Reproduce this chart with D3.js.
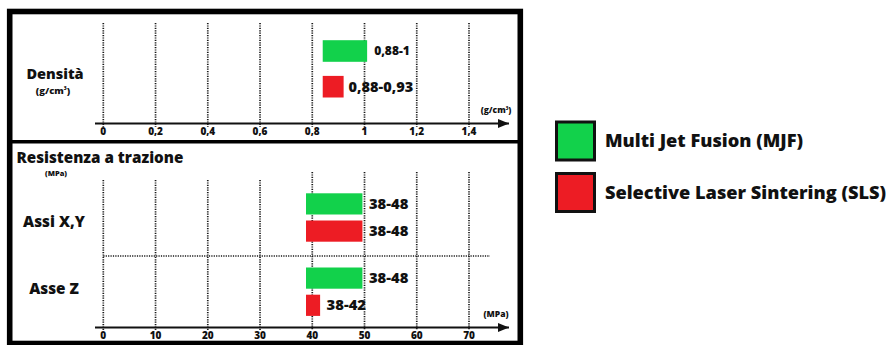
<!DOCTYPE html>
<html>
<head>
<meta charset="utf-8">
<script src="https://cdn.jsdelivr.net/npm/d3@7"></script>
<style>
  body { margin: 0; background: #fff; }
  svg text { font-family: "Open Sans", sans-serif; font-weight: 800; fill: #111; }
</style>
</head>
<body>
<script>
// series
const seriesNames = ["Multi Jet Fusion (MJF)", "Selective Laser Sintering (SLS)"];
const seriesKeys = ["MJF", "SLS"];
const seriesColors = ["#12d14b", "#ed1c24"];

// density panel (bar extents as drawn, labels as written)
const densityStart = [0.84, 0.84];
const densityEnd = [1.01, 0.92];
const densityLabels = ["0,88-1", "0,88-0,93"];
const densityTicks = [0, 0.2, 0.4, 0.6, 0.8, 1, 1.2, 1.4];

// tensile panel
const tensileGroups = ["Assi X,Y", "Asse Z"];
const tensileStart = [[38.8, 38.8], [38.8, 38.8]];
const tensileEnd = [[49.6, 49.6], [49.6, 41.5]];
const tensileLabels = [["38-48", "38-48"], ["38-48", "38-42"]];
const tensileTicks = [0, 10, 20, 30, 40, 50, 60, 70];

const width = 896, height = 345;

const svg = d3.select('body').append('svg')
    .attr('width', width)
    .attr('height', height);

svg.append('defs').append('marker')
    .attr('id', 'arrow')
    .attr('viewBox', '0 0 10 8')
    .attr('refX', 10).attr('refY', 4)
    .attr('markerWidth', 11).attr('markerHeight', 9)
    .attr('markerUnits', 'userSpaceOnUse')
    .attr('orient', 'auto')
    .append('path').attr('d', 'M0,0L10,4L0,8Z').attr('fill', '#111');

const fmt = d => String(d).replace('.', ',');

// frame
svg.append('rect')
    .attr('x', 9.7).attr('y', 11.5)
    .attr('width', 510.6).attr('height', 332)
    .attr('fill', 'none').attr('stroke', '#000').attr('stroke-width', 5.6);
svg.append('line')
    .attr('x1', 10).attr('x2', 520).attr('y1', 141.7).attr('y2', 141.7)
    .attr('stroke', '#000').attr('stroke-width', 3.5);

function dotted(sel) {
    return sel.attr('stroke', '#1a1a1a').attr('stroke-width', 1.7).attr('stroke-dasharray', '1.2,1.2');
}

// ---------- density ----------
const xD = d3.scaleLinear().domain([0, 1.4]).range([103.3, 469]);
const yD = d3.scalePoint().domain(seriesKeys).range([51, 86.7]);
const topPanel = svg.append('g');

dotted(topPanel.selectAll('line.grid').data(densityTicks).enter().append('line'))
    .attr('class', 'grid')
    .attr('x1', d => xD(d)).attr('x2', d => xD(d))
    .attr('y1', 23).attr('y2', 127);

topPanel.append('line')
    .attr('x1', 95).attr('x2', 509).attr('y1', 123.5).attr('y2', 123.5)
    .attr('stroke', '#111').attr('stroke-width', 2)
    .attr('marker-end', 'url(#arrow)');

topPanel.selectAll('text.tick').data(densityTicks).enter().append('text')
    .attr('class', 'tick')
    .attr('x', d => xD(d)).attr('y', 134.5)
    .attr('text-anchor', 'middle').attr('font-size', 10)
    .text(fmt);

topPanel.append('text').attr('x', 496).attr('y', 113)
    .attr('text-anchor', 'middle').attr('font-size', 8.5)
    .html('(g/cm<tspan dy="-3.5" font-size="4.5">3</tspan><tspan dy="3.5">)</tspan>');

topPanel.selectAll('rect.bar').data(seriesKeys).enter().append('rect')
    .attr('class', 'bar')
    .attr('x', (d, i) => xD(densityStart[i]))
    .attr('width', (d, i) => xD(densityEnd[i]) - xD(densityStart[i]))
    .attr('y', d => yD(d) - 10.8).attr('height', 21.6)
    .attr('fill', (d, i) => seriesColors[i]);

topPanel.selectAll('text.val').data(seriesKeys).enter().append('text')
    .attr('class', 'val')
    .attr('x', (d, i) => xD(densityEnd[i]) + (i === 0 ? 7 : 5))
    .attr('y', d => yD(d)).attr('dy', '0.35em')
    .attr('font-size', (d, i) => i === 0 ? 12 : 14.5)
    .text((d, i) => densityLabels[i]);

topPanel.append('text').attr('x', 55).attr('y', 79)
    .attr('text-anchor', 'middle').attr('font-size', 14.5).text('Densità');
topPanel.append('text').attr('x', 53).attr('y', 94)
    .attr('text-anchor', 'middle').attr('font-size', 9.5)
    .html('(g/cm<tspan dy="-4" font-size="5">3</tspan><tspan dy="4">)</tspan>');

// ---------- tensile ----------
const xT = d3.scaleLinear().domain([0, 70]).range([103.3, 469]);
const yG = d3.scalePoint().domain(tensileGroups).range([217.5, 291.7]);
const yS = d3.scalePoint().domain(seriesKeys).range([-13.6, 13.6]);
const bot = svg.append('g');

bot.append('text').attr('x', 16.5).attr('y', 163)
    .attr('font-size', 15.2).text('Resistenza a trazione');
bot.append('text').attr('x', 56).attr('y', 176)
    .attr('text-anchor', 'middle').attr('font-size', 7.5).text('(MPa)');

dotted(bot.selectAll('line.grid').data(tensileTicks).enter().append('line'))
    .attr('class', 'grid')
    .attr('x1', d => xT(d)).attr('x2', d => xT(d))
    .attr('y1', d => d < 40 ? 180 : 172).attr('y2', 330);

const sepY = (yG(tensileGroups[0]) + yG(tensileGroups[1])) / 2 + 1.4;
dotted(bot.append('line'))
    .attr('x1', xT(0)).attr('x2', 490)
    .attr('y1', sepY).attr('y2', sepY);

bot.append('line')
    .attr('x1', 95).attr('x2', 509).attr('y1', 327.5).attr('y2', 327.5)
    .attr('stroke', '#111').attr('stroke-width', 2)
    .attr('marker-end', 'url(#arrow)');

bot.selectAll('text.tick').data(tensileTicks).enter().append('text')
    .attr('class', 'tick')
    .attr('x', d => xT(d)).attr('y', 339)
    .attr('text-anchor', 'middle').attr('font-size', 10)
    .text(d => d);

bot.append('text').attr('x', 496).attr('y', 317)
    .attr('text-anchor', 'middle').attr('font-size', 8.5).text('(MPa)');

const labelShift = [9.5, 1.8];
bot.selectAll('text.cat').data(tensileGroups).enter().append('text')
    .attr('class', 'cat')
    .attr('x', 54).attr('y', (d, i) => yG(d) + labelShift[i])
    .attr('text-anchor', 'middle').attr('font-size', 15.3)
    .text(d => d);

tensileGroups.forEach((g, gi) => {
    const row = bot.append('g');
    row.selectAll('rect').data(seriesKeys).enter().append('rect')
        .attr('x', (d, i) => xT(tensileStart[gi][i]))
        .attr('width', (d, i) => xT(tensileEnd[gi][i]) - xT(tensileStart[gi][i]))
        .attr('y', d => yG(g) + yS(d) - 10.6).attr('height', 21.2)
        .attr('fill', (d, i) => seriesColors[i]);
    row.selectAll('text').data(seriesKeys).enter().append('text')
        .attr('x', (d, i) => xT(tensileEnd[gi][i]) + 6.5)
        .attr('y', d => yG(g) + yS(d)).attr('dy', '0.35em')
        .attr('font-size', 14.8)
        .text((d, i) => tensileLabels[gi][i]);
});

// ---------- legend ----------
const legend = svg.append('g');
const yL = d3.scalePoint().domain(seriesKeys).range([141, 192.5]);
legend.selectAll('rect').data(seriesKeys).enter().append('rect')
    .attr('x', 556.5).attr('y', d => yL(d) - 19)
    .attr('width', 38).attr('height', 38)
    .attr('fill', (d, i) => seriesColors[i])
    .attr('stroke', '#111').attr('stroke-width', 3);
legend.selectAll('text').data(seriesKeys).enter().append('text')
    .attr('x', 605).attr('y', d => yL(d)).attr('dy', '0.35em')
    .attr('font-size', 18.2)
    .text((d, i) => seriesNames[i]);
</script>
</body>
</html>
